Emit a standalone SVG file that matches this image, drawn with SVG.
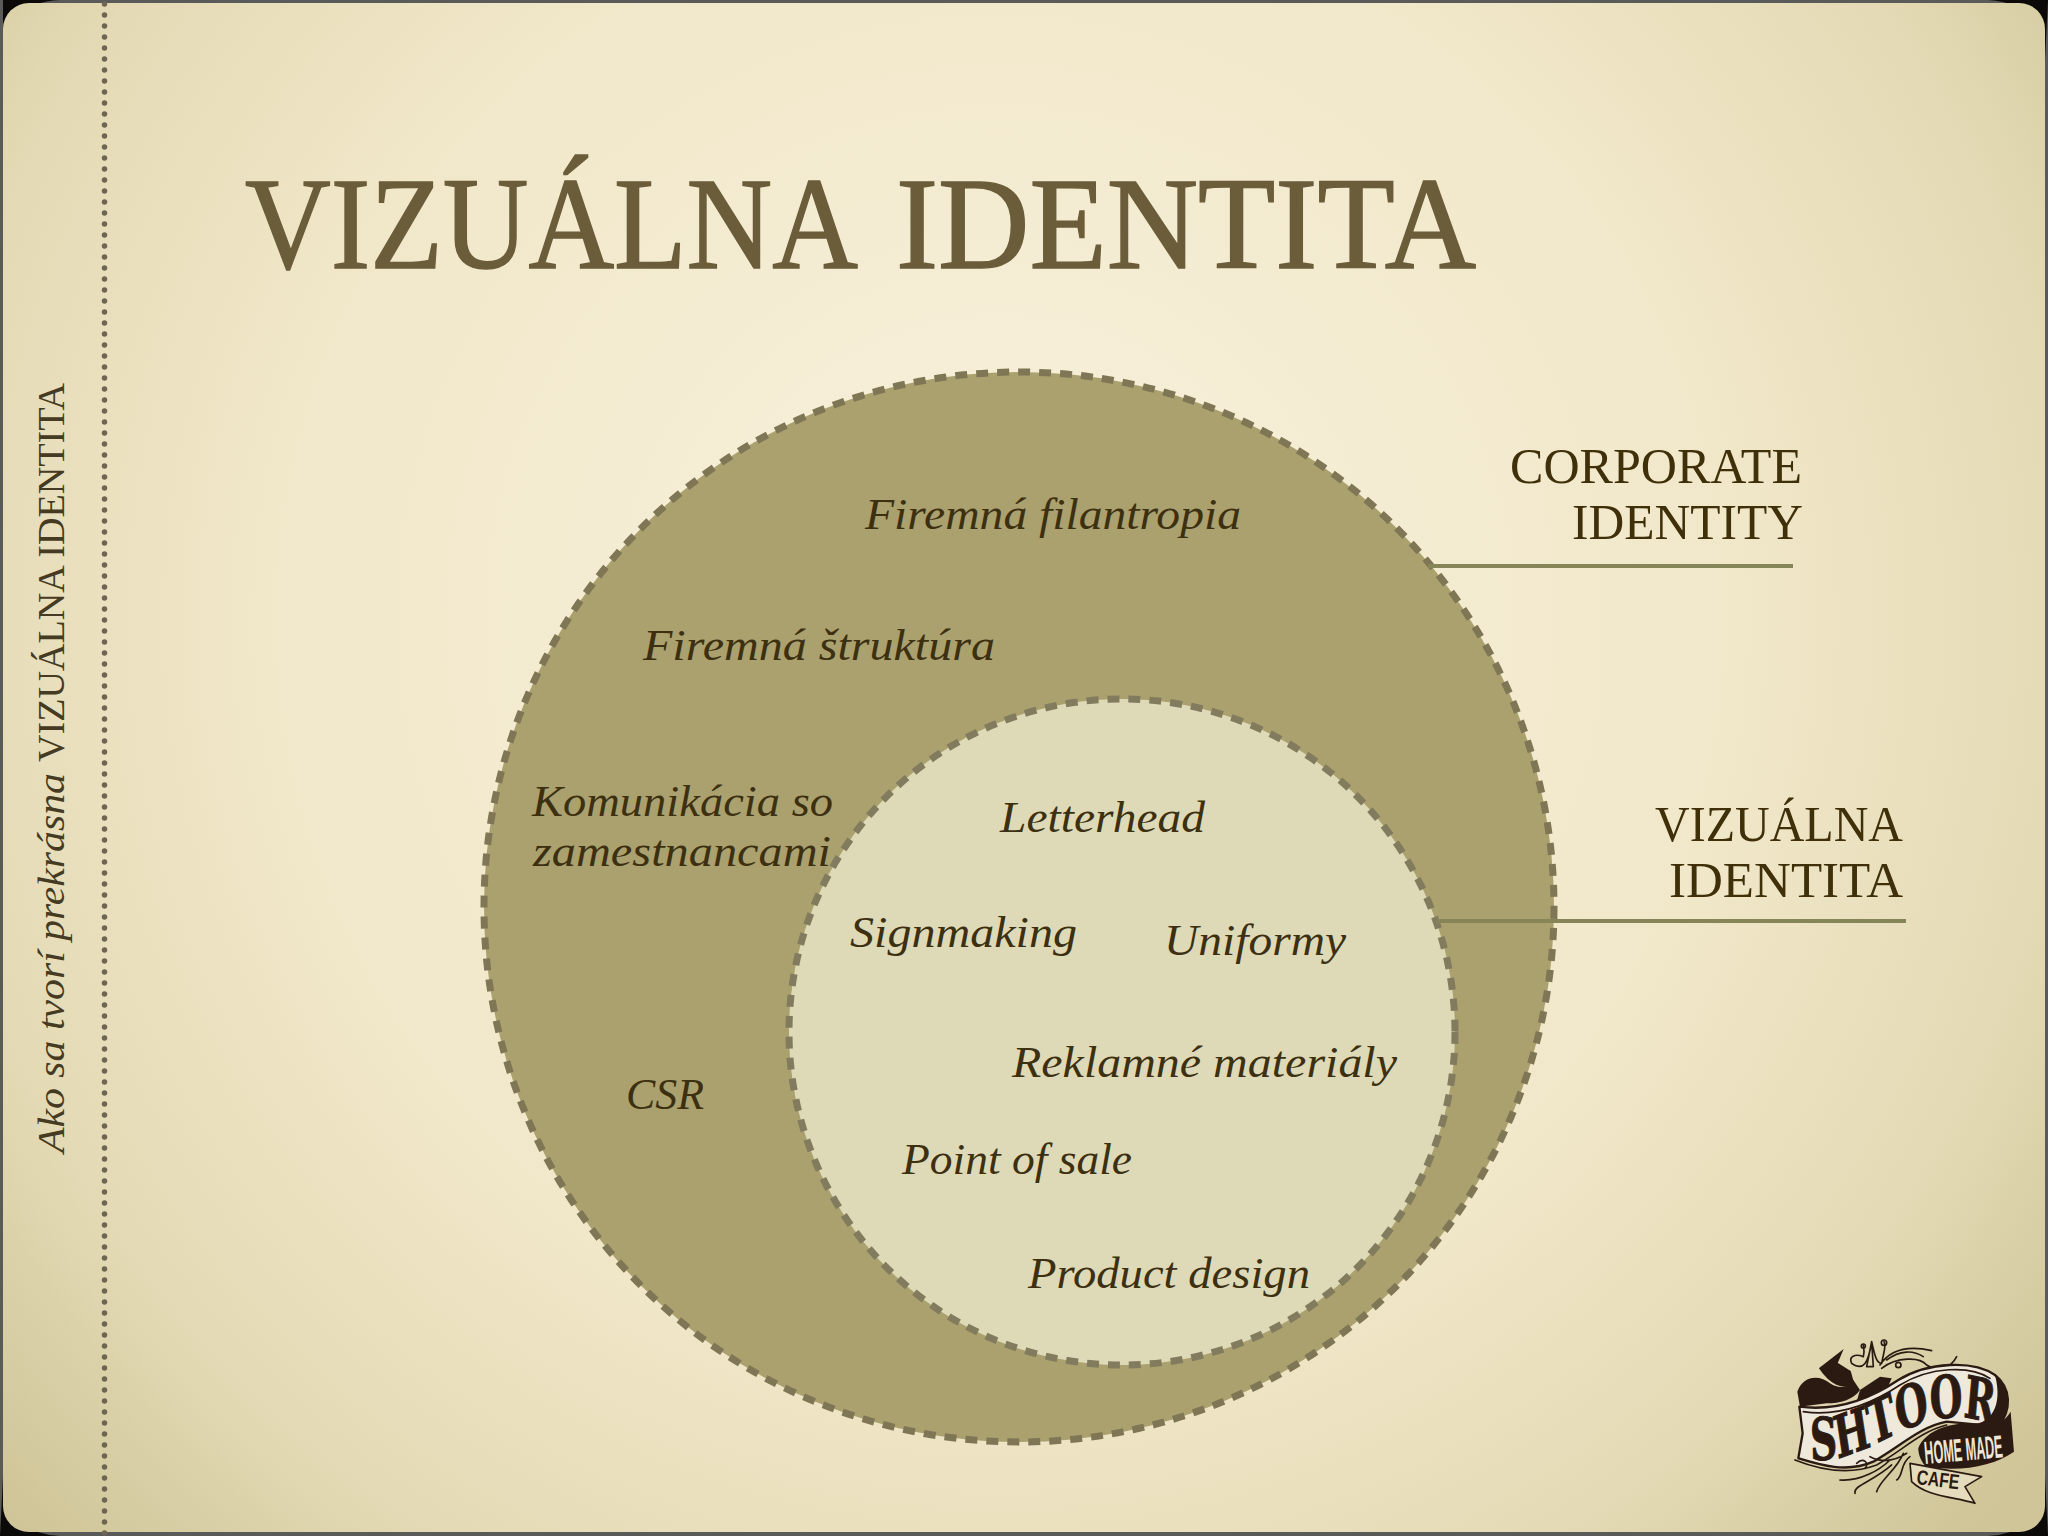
<svg xmlns="http://www.w3.org/2000/svg" width="2048" height="1536" viewBox="0 0 2048 1536">
<style>
.lab{font-family:"Liberation Serif",serif;font-style:italic;font-size:44px;fill:#3d3010}
.cap{font-family:"Liberation Serif",serif;font-size:50px;fill:#3f3009}
.lead{stroke:#858558;stroke-width:4;fill:none}
.ink{fill:none;stroke:#2a1a12;stroke-width:5;stroke-linecap:round;stroke-linejoin:round}
</style>
<defs>
<radialGradient id="paper" gradientUnits="userSpaceOnUse" cx="1000" cy="620" r="1330">
<stop offset="0" stop-color="#f8f1dc"/><stop offset=".55" stop-color="#f1e8ca"/><stop offset=".8" stop-color="#e4dab5"/><stop offset="1" stop-color="#cfc598"/>
</radialGradient>
<path id="shtoor-curve" d="M330 478C500 490 640 425 790 385S1020 345 1150 365"/>
</defs>
<rect width="2048" height="1536" fill="#5a5a58"/>
<path d="M0 0H60Q3 3 3 60V0ZM2048 0H1988Q2045 3 2045 60ZM0 1536H60Q3 1533 3 1476ZM2048 1536H1988Q2045 1533 2045 1476Z" fill="#0c0a08"/>
<rect x="3" y="3" width="2042" height="1529" rx="26" fill="url(#paper)"/>
<line x1="104.500" y1="4" x2="104.500" y2="1534" stroke="#6e6552" stroke-width="5.500" stroke-linecap="round" stroke-dasharray="0 11"/>
<g id="title" font-family="'Liberation Serif',serif" font-size="131" fill="#6b5d3a" stroke="#6b5d3a" stroke-width="1.500">
<text x="245" y="268" textLength="613" lengthAdjust="spacingAndGlyphs">VIZUÁLNA</text>
<text x="896" y="268" textLength="580" lengthAdjust="spacingAndGlyphs">IDENTITA</text>
</g>
<g id="side-title" transform="translate(64 1153) rotate(-90)" font-family="'Liberation Serif',serif" font-size="37" fill="#453a22">
<text x="0" y="0" font-style="italic" textLength="380" lengthAdjust="spacingAndGlyphs">Ako sa tvorí prekrásna</text>
<text x="391" y="0" textLength="379" lengthAdjust="spacingAndGlyphs">VIZUÁLNA IDENTITA</text>
</g>
<g id="corporate-identity">
<circle cx="1019" cy="907" r="535" fill="#aaa16f" stroke="#7f7655" stroke-width="7" stroke-dasharray="12 9"/>
<text class="lab" x="865" y="529" textLength="376" lengthAdjust="spacingAndGlyphs">Firemná filantropia</text>
<text class="lab" x="643" y="660" textLength="352" lengthAdjust="spacingAndGlyphs">Firemná štruktúra</text>
<text class="lab" x="532" y="816" textLength="301" lengthAdjust="spacingAndGlyphs">Komunikácia so</text>
<text class="lab" x="533" y="866" textLength="298" lengthAdjust="spacingAndGlyphs">zamestnancami</text>
<text class="lab" x="626" y="1109" textLength="78" lengthAdjust="spacingAndGlyphs">CSR</text>
</g>
<g id="vizualna-identita">
<circle cx="1122" cy="1032" r="333" fill="#dedab8" stroke="#827b5e" stroke-width="7" stroke-dasharray="12 9"/>
<text class="lab" x="1000" y="832" textLength="205" lengthAdjust="spacingAndGlyphs">Letterhead</text>
<text class="lab" x="850" y="947" textLength="227" lengthAdjust="spacingAndGlyphs">Signmaking</text>
<text class="lab" x="1164" y="955" textLength="182" lengthAdjust="spacingAndGlyphs">Uniformy</text>
<text class="lab" x="1012" y="1077" textLength="385" lengthAdjust="spacingAndGlyphs">Reklamné materiály</text>
<text class="lab" x="902" y="1174" textLength="230" lengthAdjust="spacingAndGlyphs">Point of sale</text>
<text class="lab" x="1028" y="1288" textLength="282" lengthAdjust="spacingAndGlyphs">Product design</text>
</g>
<g id="connectors">
<line class="lead" x1="1428" y1="566" x2="1793" y2="566"/>
<line class="lead" x1="1437" y1="921" x2="1906" y2="921"/>
</g>
<g id="label-corporate">
<text class="cap" x="1510" y="483" textLength="292" lengthAdjust="spacingAndGlyphs">CORPORATE</text>
<text class="cap" x="1572" y="539" textLength="231" lengthAdjust="spacingAndGlyphs">IDENTITY</text>
</g>
<g id="label-vizualna">
<text class="cap" x="1655" y="841" textLength="248" lengthAdjust="spacingAndGlyphs">VIZUÁLNA</text>
<text class="cap" x="1669" y="897" textLength="234" lengthAdjust="spacingAndGlyphs">IDENTITA</text>
</g>
<g id="logo" transform="translate(1740 1300) scale(.3333)">
<path class="ink" stroke-width="6" d="M335 190C370 215 385 190 395 125C405 170 410 190 425 190C430 160 440 140 432 125M420 195C450 150 500 135 575 152M425 205C470 170 540 170 560 195C590 215 630 210 650 170M335 190C325 170 345 160 370 170C375 150 370 140 370 135M440 180C480 150 520 150 550 170M395 125L400 200L380 200Z"/>
<circle cx="432" cy="128" r="8" class="ink"/><circle cx="370" cy="138" r="6" class="ink"/><circle cx="475" cy="195" r="8" class="ink"/>
<path d="M172 275C190 225 240 225 270 250C300 270 330 260 340 240L360 270C340 300 300 310 260 310L180 320Z" fill="#2a1a12"/>
<path d="M240 205L305 155L290 190L330 215L340 250C310 270 270 250 240 205Z" fill="#2a1a12" stroke="#2a1a12" stroke-width="5"/>
<path d="M360 270L420 230L455 235L440 270L350 305Z" fill="#2a1a12"/>
<path d="M178 320C290 335 385 300 475 240C565 185 700 180 765 225C815 265 815 330 775 380L620 365C540 380 480 440 400 485C320 520 240 495 175 475L188 400Z" fill="#efe9dc" stroke="#2a1a12" stroke-width="7" stroke-linejoin="round"/>
<path class="ink" stroke-width="4" d="M165 480C240 510 330 525 410 495C490 450 540 395 620 375M190 335C290 350 390 315 480 255C570 200 690 195 750 235"/>
<path d="M765 225C815 265 815 330 775 380L700 372C750 370 790 320 765 225Z" fill="#2a1a12"/>
<path d="M535 445C555 390 640 362 720 372C760 382 790 370 812 335L822 455C760 500 650 518 556 498C540 480 535 460 535 445Z" fill="#2a1a12"/>
<path d="M510 490L725 530L675 560L705 610C640 590 560 590 515 545Z" fill="#e5dcbd" stroke="#2a1a12" stroke-width="5" stroke-linejoin="round"/>
<path class="ink" stroke-width="7" d="M300 540C360 545 420 510 450 480M345 580C340 555 400 545 455 495M410 575C420 540 470 510 490 460M470 540C490 530 480 490 510 470M350 490C370 470 390 490 375 505M390 470C430 490 470 480 500 460"/>
<g transform="scale(.64 1)" font-family="'DejaVu Serif',serif" font-weight="700" font-size="176" fill="#2a1a12" stroke="#2a1a12" stroke-width="3">
<text><textPath href="#shtoor-curve">SHTOOR</textPath></text>
</g>
<text transform="translate(556 492) rotate(-5) scale(.394 1)" font-family="'Liberation Sans',sans-serif" font-weight="700" font-size="96" fill="#eee7d8">HOME MADE</text>
<text transform="translate(528 552) rotate(7) scale(.76 1)" font-family="'Liberation Sans',sans-serif" font-weight="700" font-size="62" fill="#2a1a12">CAFE</text>
</g>
</svg>
